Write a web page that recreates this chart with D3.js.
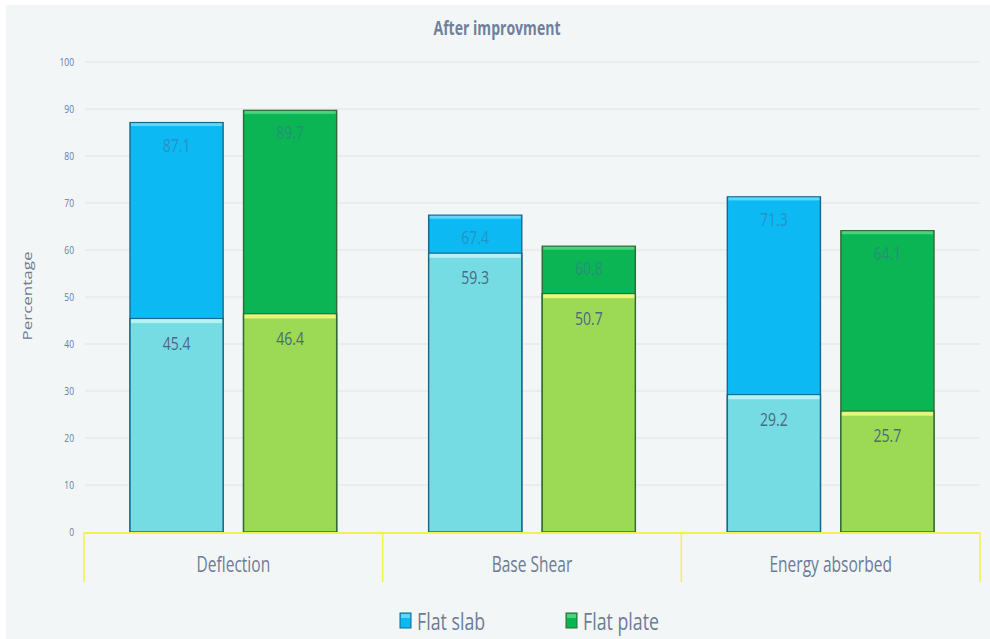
<!DOCTYPE html>
<html>
<head>
<meta charset="utf-8">
<script src="https://cdn.jsdelivr.net/npm/d3@7"></script>
<style>
  html, body { margin: 0; padding: 0; background: #ffffff; }
  svg { display: block; }
  text { font-family: "Open Sans", "Noto Sans", sans-serif; }
</style>
</head>
<body>
<svg id="chart" width="990" height="639"></svg>
<script>
// ---- data ----
const categories = ["Deflection", "Base Shear", "Energy absorbed"];
const seriesNames = ["Flat slab", "Flat plate"];
const flatSlabTotal = [87.1, 67.4, 71.3];
const flatSlabImproved = [45.4, 59.3, 29.2];
const flatPlateTotal = [89.7, 60.8, 64.1];
const flatPlateImproved = [46.4, 50.7, 25.7];
const yTicks = [0, 10, 20, 30, 40, 50, 60, 70, 80, 90, 100];
const chartTitle = "After improvment";
const yTitle = "Percentage";

// ---- styling ----
const W = 990, H = 639;
const margin = { left: 84, right: 10, top: 62, bottom: 107 };
const textColor = "#6b7c95";
const palette = {
  "Flat slab":  { back: "#0cb9f3", front: "#76dce3", edge: "#17678c", hiBack: "#5fd6fb", hiFront: "#b6f1f4" },
  "Flat plate": { back: "#0bb553", front: "#9cd954", edge: "#2f6a34", hiBack: "#47d47c", hiFront: "#e4f77a" }
};
const squeeze = 0.74; // horizontal text compression

const svg = d3.select("#chart");

svg.append("rect").attr("x", 6).attr("y", 5).attr("width", W - 6).attr("height", H - 5)
  .attr("fill", "#f3f6f7");

const x0 = d3.scaleBand().domain(categories).range([margin.left, W - margin.right]).padding(0);
const bw = x0.bandwidth();
const x1 = d3.scaleBand().domain(seriesNames).range([46, bw - 46]).paddingInner(0.18);
const y = d3.scaleLinear().domain([0, 100]).range([H - margin.bottom, margin.top]);

function squeezedText(sel, xPos, yPos, rot) {
  sel.attr("transform", `translate(${xPos},${yPos}) scale(${squeeze},1)` + (rot ? ` rotate(${rot})` : ""));
  return sel;
}

// gridlines
const grid = svg.append("g");
grid.selectAll("line").data(yTicks.filter(d => d > 0)).join("line")
  .attr("x1", margin.left + 1).attr("x2", W - margin.right)
  .attr("y1", d => y(d)).attr("y2", d => y(d))
  .attr("stroke", "#dfe3e6").attr("stroke-width", 1.2);

// y tick labels
const yAxis = d3.axisLeft(y).tickValues(yTicks).tickSize(0).tickPadding(0);
const yg = svg.append("g").attr("transform", `translate(${margin.left - 10},0)`).call(yAxis);
yg.select(".domain").remove();
yg.selectAll(".tick text")
  .attr("fill", "#6a78a8").attr("font-size", 10)
  .attr("transform", `scale(0.85,1)`)
  .attr("x", 0);

// y axis title
svg.append("text").text(yTitle)
  .attr("fill", textColor).attr("font-size", 17)
  .attr("text-anchor", "middle")
  .call(s => squeezedText(s, 32, 296, -90));

// chart title
svg.append("text").text(chartTitle)
  .attr("fill", "#6f819b").attr("font-size", 19).attr("font-weight", "bold")
  .attr("text-anchor", "middle")
  .call(s => squeezedText(s, 497, 35));

// bars
const rows = categories.map((c, i) => ({
  category: c,
  items: [
    { series: "Flat slab", total: flatSlabTotal[i], improved: flatSlabImproved[i] },
    { series: "Flat plate", total: flatPlateTotal[i], improved: flatPlateImproved[i] }
  ]
}));

const groups = svg.append("g").selectAll("g").data(rows).join("g")
  .attr("transform", d => `translate(${x0(d.category)},0)`);

const bars = groups.selectAll("g.bar").data(d => d.items).join("g").attr("class", "bar")
  .attr("transform", d => `translate(${x1(d.series)},0)`);

const bwi = x1.bandwidth();
const base = y(0);

// back (total) bar
bars.append("rect")
  .attr("x", 0).attr("y", d => y(d.total)).attr("width", bwi).attr("height", d => base - y(d.total))
  .attr("fill", d => palette[d.series].back)
  .attr("stroke", d => palette[d.series].edge).attr("stroke-width", 1.4);
bars.append("rect")
  .attr("x", 1).attr("y", d => y(d.total) + 0.5).attr("width", bwi - 2).attr("height", 3)
  .attr("fill", d => palette[d.series].hiBack);

// front (improved) bar
bars.append("rect")
  .attr("x", 0).attr("y", d => y(d.improved)).attr("width", bwi).attr("height", d => base - y(d.improved))
  .attr("fill", d => palette[d.series].front)
  .attr("stroke", d => palette[d.series].edge).attr("stroke-width", 1.4);
bars.append("rect")
  .attr("x", 1).attr("y", d => y(d.improved) + 0.5).attr("width", bwi - 2).attr("height", 4)
  .attr("fill", d => palette[d.series].hiFront);

// value labels
bars.append("text").text(d => d.total)
  .attr("fill", "#3d6f9a").attr("fill-opacity", 0.55).attr("font-size", 19)
  .attr("text-anchor", "middle")
  .each(function (d) { squeezedText(d3.select(this), bwi / 2, y(d.total) + 29); });
bars.append("text").text(d => d.improved)
  .attr("fill", "#4c6883").attr("font-size", 19)
  .attr("text-anchor", "middle")
  .each(function (d) { squeezedText(d3.select(this), bwi / 2, y(d.improved) + 31); });

// x axis (yellow) with category separators
const xa = svg.append("g");
xa.append("line").attr("x1", margin.left).attr("x2", W - margin.right)
  .attr("y1", base + 1).attr("y2", base + 1)
  .attr("stroke", "#f1f24a").attr("stroke-width", 2);
const seps = categories.map(c => x0(c)).concat([x0(categories[categories.length - 1]) + bw]);
xa.selectAll("line.sep").data(seps).join("line").attr("class", "sep")
  .attr("x1", d => d).attr("x2", d => d).attr("y1", base).attr("y2", base + 50)
  .attr("stroke", "#f1f24a").attr("stroke-width", 1.5);
xa.selectAll("text").data(categories).join("text").text(d => d)
  .attr("fill", textColor).attr("font-size", 21).attr("text-anchor", "middle")
  .each(function (d) { squeezedText(d3.select(this), x0(d) + bw / 2, 572); });

// legend
const legendPos = [400, 566];
const legend = svg.append("g").selectAll("g").data(seriesNames).join("g")
  .attr("transform", (d, i) => `translate(${legendPos[i]},612)`);
legend.append("rect").attr("x", 0).attr("y", 1).attr("width", 11).attr("height", 15)
  .attr("fill", d => palette[d].back).attr("stroke", d => palette[d].edge).attr("stroke-width", 1);
legend.append("rect").attr("x", 1).attr("y", 2).attr("width", 9).attr("height", 4)
  .attr("fill", d => palette[d].hiBack);
legend.append("text").text(d => d)
  .attr("fill", textColor).attr("font-size", 24)
  .each(function () { squeezedText(d3.select(this), 17, 18); });
</script>
</body>
</html>
